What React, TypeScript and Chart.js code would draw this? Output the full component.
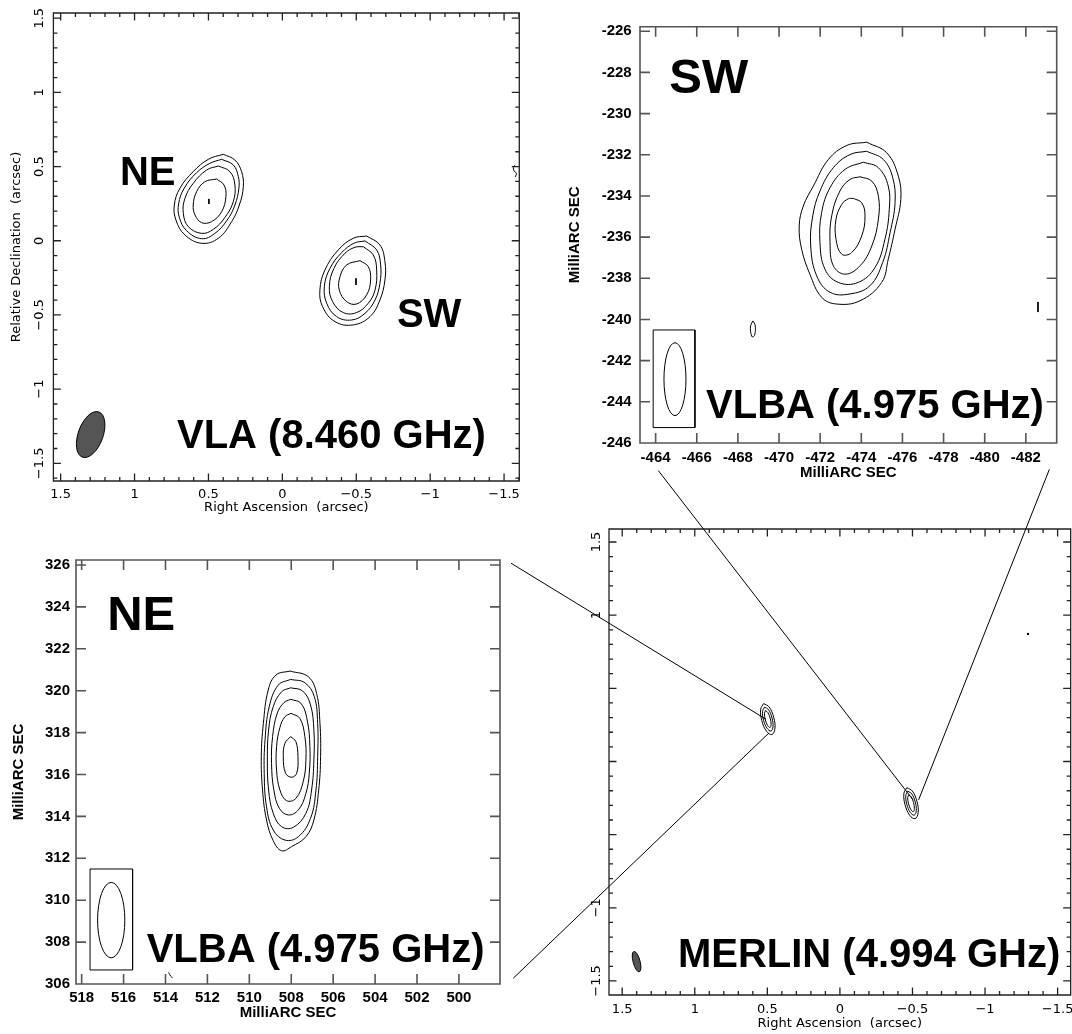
import React, { useEffect, useRef } from 'react';
import { Chart, registerables } from 'chart.js';

Chart.register(...registerables);

type XY = [number, number];

// ================= VLA (8.460 GHz) panel — arcsec =================
const VLA_X_RANGE: XY = [-1.603, 1.549];
const VLA_Y_RANGE: XY = [-1.619, 1.535];
const VLA_TICKS = [1.5, 1, 0.5, 0, -0.5, -1, -1.5];
const VLA_TICK_LABELS = ['1.5', '1', '0.5', '0', '\u22120.5', '\u22121', '\u22121.5'];
const VLA_NE_C1: XY[] = [[0.400,0.583],[0.321,0.544],[0.276,0.466],[0.264,0.365],[0.291,0.241],[0.343,0.129],[0.433,0.017],[0.546,-0.017],[0.659,0.039],[0.720,0.140],[0.731,0.241],[0.693,0.354],[0.603,0.466],[0.501,0.549]];
const VLA_NE_C2: XY[] = [[0.411,0.549],[0.332,0.511],[0.298,0.432],[0.294,0.354],[0.321,0.241],[0.373,0.140],[0.456,0.050],[0.546,0.014],[0.648,0.068],[0.697,0.158],[0.702,0.248],[0.664,0.354],[0.580,0.459],[0.490,0.522]];
const VLA_NE_C3: XY[] = [[0.433,0.504],[0.355,0.466],[0.321,0.376],[0.332,0.264],[0.388,0.158],[0.467,0.077],[0.546,0.050],[0.636,0.095],[0.670,0.185],[0.659,0.286],[0.603,0.387],[0.512,0.477]];
const VLA_NE_C4: XY[] = [[0.445,0.416],[0.395,0.376],[0.382,0.297],[0.411,0.196],[0.479,0.129],[0.546,0.122],[0.591,0.174],[0.603,0.241],[0.580,0.331],[0.524,0.398]];
const VLA_NE_PEAK: XY[] = [[0.497,0.282],[0.497,0.248]];
const VLA_SW_C1: XY[] = [[-0.570,0.032],[-0.660,-0.028],[-0.694,-0.141],[-0.694,-0.264],[-0.660,-0.399],[-0.593,-0.511],[-0.480,-0.567],[-0.356,-0.545],[-0.272,-0.444],[-0.254,-0.332],[-0.288,-0.197],[-0.378,-0.062],[-0.480,0.017]];
const VLA_SW_C2: XY[] = [[-0.559,-0.001],[-0.638,-0.062],[-0.665,-0.163],[-0.660,-0.287],[-0.627,-0.399],[-0.559,-0.489],[-0.469,-0.534],[-0.367,-0.511],[-0.300,-0.421],[-0.284,-0.309],[-0.322,-0.186],[-0.401,-0.080],[-0.484,-0.017]];
const VLA_SW_C3: XY[] = [[-0.548,-0.040],[-0.615,-0.096],[-0.638,-0.197],[-0.627,-0.332],[-0.581,-0.421],[-0.502,-0.484],[-0.412,-0.484],[-0.340,-0.410],[-0.318,-0.309],[-0.349,-0.186],[-0.424,-0.084],[-0.491,-0.044]];
const VLA_SW_C4: XY[] = [[-0.525,-0.134],[-0.581,-0.174],[-0.597,-0.264],[-0.570,-0.365],[-0.502,-0.426],[-0.435,-0.410],[-0.385,-0.332],[-0.390,-0.242],[-0.435,-0.163]];
const VLA_SW_PEAK: XY[] = [[-0.498,-0.253],[-0.498,-0.298]];
const VLA_EDGE_BLIP: XY[] = [[-1.575,0.51],[-1.563,0.495],[-1.568,0.47],[-1.583,0.455],[-1.576,0.43]];
const VLA_BEAM = { x: 1.297, y: -1.306, major: 0.162, minor: 0.084, pa: -20, fill: '#555555' };
const VLA_TEXTS = [
  { text: 'NE', x: 1.099, y: 0.376, size: 40 },
  { text: 'SW', x: -0.775, y: -0.581, size: 40 },
  { text: 'VLA (8.460 GHz)', x: 0.713, y: -1.396, size: 40 },
];

// ================= VLBA SW panel — milliarcsec =================
const SW_X_RANGE: XY = [-483.50, -463.24];
const SW_Y_RANGE: XY = [-246.0, -225.78];
const SW_X_TICKS = [-464, -466, -468, -470, -472, -474, -476, -478, -480, -482];
const SW_X_LABELS = ['-464', '-466', '-468', '-470', '-472', '-474', '-476', '-478', '-480', '-482'];
const SW_Y_TICKS = [-226, -228, -230, -232, -234, -236, -238, -240, -242, -244, -246];
const SW_Y_LABELS = ['-226', '-228', '-230', '-232', '-234', '-236', '-238', '-240', '-242', '-244', '-246'];
const SW_C1: XY[] = [[-474.26,-231.39],[-475.24,-231.91],[-475.80,-233.04],[-475.92,-234.17],[-475.64,-235.62],[-475.31,-237.07],[-474.99,-238.20],[-473.94,-239.09],[-472.80,-239.25],[-472.07,-238.92],[-471.50,-237.80],[-471.10,-236.59],[-470.98,-235.46],[-471.18,-234.49],[-471.67,-233.52],[-472.40,-232.23],[-473.29,-231.55]];
const SW_C2: XY[] = [[-474.26,-231.83],[-475.07,-232.23],[-475.53,-233.12],[-475.64,-234.33],[-475.40,-235.78],[-475.04,-237.23],[-474.42,-238.36],[-473.45,-238.76],[-472.48,-238.68],[-471.83,-237.88],[-471.54,-236.43],[-471.64,-234.97],[-471.99,-233.76],[-472.64,-232.63],[-473.45,-231.99]];
const SW_C3: XY[] = [[-474.10,-232.36],[-474.83,-232.63],[-475.31,-233.52],[-475.36,-234.65],[-475.15,-236.10],[-474.67,-237.47],[-473.85,-238.20],[-472.88,-238.20],[-472.23,-237.55],[-471.99,-236.26],[-472.07,-234.81],[-472.48,-233.60],[-473.21,-232.71]];
const SW_C4: XY[] = [[-473.94,-233.07],[-474.51,-233.28],[-474.83,-234.01],[-474.83,-235.13],[-474.51,-236.43],[-473.94,-237.39],[-473.21,-237.80],[-472.64,-237.39],[-472.48,-236.26],[-472.56,-234.97],[-472.96,-233.76],[-473.45,-233.20]];
const SW_C5: XY[] = [[-473.61,-234.12],[-474.02,-234.33],[-474.18,-234.97],[-474.02,-235.94],[-473.53,-236.75],[-473.05,-236.83],[-472.77,-236.10],[-472.77,-235.13],[-473.05,-234.41],[-473.37,-234.14]];
const SW_SPOT: XY[] = [[-468.73,-240.07],[-468.83,-240.25],[-468.85,-240.5],[-468.80,-240.78],[-468.70,-240.85],[-468.62,-240.6],[-468.62,-240.3]];
const SW_TICKMARK: XY[] = [[-482.59,-239.15],[-482.59,-239.64]];
const SW_BEAM_BOX: XY[] = [[-463.88,-240.51],[-465.91,-240.51],[-465.91,-245.25],[-463.88,-245.25]];
const SW_BEAM = { x: -464.94, y: -242.90, major: 1.77, minor: 0.535, pa: 0, fill: '' };
const SW_TEXTS = [
  { text: 'SW', x: -464.66, y: -228.99, size: 49 },
  { text: 'VLBA (4.975 GHz)', x: -466.45, y: -244.81, size: 40 },
];

// ================= VLBA NE panel — milliarcsec =================
const NE_X_RANGE: XY = [498.04, 518.27];
const NE_Y_RANGE: XY = [306.0, 326.24];
const NE_X_TICKS = [518, 516, 514, 512, 510, 508, 506, 504, 502, 500];
const NE_X_LABELS = ['518', '516', '514', '512', '510', '508', '506', '504', '502', '500'];
const NE_Y_TICKS = [326, 324, 322, 320, 318, 316, 314, 312, 310, 308, 306];
const NE_Y_LABELS = ['326', '324', '322', '320', '318', '316', '314', '312', '310', '308', '306'];
const NE_C1: XY[] = [[508.06,320.94],[507.19,320.67],[506.79,319.87],[506.63,318.44],[506.60,316.85],[506.69,315.26],[506.92,313.83],[507.30,313.03],[507.98,312.56],[508.46,312.36],[508.86,312.84],[509.18,313.83],[509.37,315.26],[509.43,316.85],[509.33,318.44],[509.10,320.03],[508.73,320.75]];
const NE_C2: XY[] = [[508.03,320.54],[507.35,320.38],[506.90,319.72],[506.74,318.44],[506.74,316.85],[506.82,315.26],[507.08,313.91],[507.66,313.03],[508.30,312.87],[508.86,313.35],[509.18,314.46],[509.29,316.06],[509.25,317.65],[509.05,319.24],[508.62,320.27]];
const NE_C3: XY[] = [[508.03,320.14],[507.46,319.99],[507.08,319.32],[506.92,318.12],[506.92,316.69],[507.03,315.26],[507.30,314.15],[507.90,313.48],[508.46,313.51],[508.86,314.15],[509.08,315.26],[509.14,316.69],[509.08,318.12],[508.86,319.24],[508.46,319.95]];
const NE_C4: XY[] = [[508.03,319.59],[507.54,319.40],[507.24,318.60],[507.11,317.33],[507.14,316.06],[507.30,315.10],[507.66,314.31],[508.14,314.07],[508.57,314.39],[508.83,315.26],[508.94,316.53],[508.89,317.81],[508.67,318.92],[508.35,319.43]];
const NE_C5: XY[] = [[508.01,318.92],[507.59,318.68],[507.35,317.81],[507.30,316.69],[507.43,315.66],[507.78,314.86],[508.22,314.75],[508.54,315.26],[508.70,316.21],[508.70,317.33],[508.54,318.25],[508.30,318.76]];
const NE_C6: XY[] = [[508.03,317.81],[507.78,317.57],[507.68,316.85],[507.74,316.06],[507.98,315.87],[508.27,316.06],[508.38,316.85],[508.30,317.49]];
const NE_BLIP: XY[] = [[513.85,306.55],[513.75,306.37],[513.66,306.30]];
const NE_BEAM_BOX: XY[] = [[517.60,311.49],[515.57,311.49],[515.57,306.67],[517.60,306.67]];
const NE_BEAM = { x: 516.59, y: 309.05, major: 1.80, minor: 0.65, pa: 0, fill: '' };
const NE_TEXTS = [
  { text: 'NE', x: 516.78, y: 322.90, size: 49 },
  { text: 'VLBA (4.975 GHz)', x: 514.90, y: 307.06, size: 40 },
];

// ================= MERLIN (4.994 GHz) panel — arcsec =================
const M_X_RANGE: XY = [-1.590, 1.591];
const M_Y_RANGE: XY = [-1.596, 1.589];
const M_TICKS = [1.5, 1, 0.5, 0, -0.5, -1, -1.5];
const M_X_LABELS = ['1.5', '1', '0.5', '0', '\u22120.5', '\u22121', '\u22121.5'];
const M_Y_LABELS = ['1.5', '1', '', '', '', '\u22121', '\u22121.5'];
const M_NE_C1: XY[] = [[0.526,0.396],[0.546,0.357],[0.538,0.279],[0.506,0.207],[0.469,0.184],[0.448,0.223],[0.456,0.301],[0.488,0.373]];
const M_NE_C2: XY[] = [[0.519,0.372],[0.533,0.343],[0.526,0.282],[0.502,0.227],[0.475,0.208],[0.461,0.238],[0.468,0.298],[0.492,0.354]];
const M_NE_C3: XY[] = [[0.513,0.348],[0.520,0.328],[0.514,0.285],[0.498,0.246],[0.482,0.232],[0.474,0.252],[0.480,0.295],[0.496,0.334]];
const M_SW_C1: XY[] = [[-0.461,-0.179],[-0.441,-0.218],[-0.449,-0.296],[-0.481,-0.368],[-0.518,-0.391],[-0.539,-0.352],[-0.531,-0.274],[-0.499,-0.202]];
const M_SW_C2: XY[] = [[-0.468,-0.203],[-0.454,-0.232],[-0.461,-0.293],[-0.485,-0.348],[-0.512,-0.367],[-0.526,-0.337],[-0.519,-0.277],[-0.495,-0.221]];
const M_SW_C3: XY[] = [[-0.474,-0.227],[-0.467,-0.247],[-0.473,-0.290],[-0.489,-0.329],[-0.505,-0.343],[-0.513,-0.323],[-0.507,-0.280],[-0.491,-0.241]];
const M_SPOT: XY[] = [[-1.296, 0.872]];
const M_BEAM = { x: 1.401, y: -1.368, major: 0.072, minor: 0.024, pa: 15, fill: '#555555' };
const M_TEXTS = [{ text: 'MERLIN (4.994 GHz)', x: 1.116, y: -1.403, size: 40 }];

// ============ zoom connector lines, in MERLIN sky coordinates (arcsec) ============
const CONNECTORS: XY[][] = [
  [[1.253, 1.988], [-0.494, -0.263]],
  [[-1.429, 1.997], [-0.532, -0.263]],
  [[2.263, 1.355], [0.514, 0.288]],
  [[2.248, -1.482], [0.494, 0.195]],
];
const PAGE_X_RANGE: XY = [-1.584, 5.768];
const PAGE_Y_RANGE: XY = [-1.863, 5.205];

// ---------------- helpers ----------------
const minorTicks = (lo: number, hi: number, step: number) => {
  const out: number[] = [];
  for (let v = lo; v <= hi + 1e-9; v += step) out.push(Math.round(v * 1000) / 1000);
  return out;
};
const closed = (pts: XY[]) => [...pts, pts[0]].map(([x, y]) => ({ x, y }));
const open = (pts: XY[]) => pts.map(([x, y]) => ({ x, y }));
const lineDs = (data: any[], extra: any = {}) => ({
  data, showLine: true, pointRadius: 0, borderColor: '#000', borderWidth: 1, tension: 0.4, fill: false, ...extra,
});

const BIG_FONT = '"Liberation Sans", Arial, Helvetica, sans-serif';

function decorPlugin(s: any) {
  return {
    id: 'decor',
    afterDatasetsDraw(chart: any) {
      const { ctx, chartArea } = chart;
      const xs = chart.scales.x;
      const ys = chart.scales.y;
      ctx.save();
      (s.beams || []).forEach((b: any) => {
        const px = xs.getPixelForValue(b.x);
        const py = ys.getPixelForValue(b.y);
        const ra = Math.abs(ys.getPixelForValue(b.y + b.major) - py);
        const rb = Math.abs(xs.getPixelForValue(b.x + b.minor) - px);
        ctx.beginPath();
        ctx.ellipse(px, py, rb, ra, (-b.pa * Math.PI) / 180, 0, Math.PI * 2);
        if (b.fill) {
          ctx.fillStyle = b.fill;
          ctx.fill();
        }
        ctx.lineWidth = 1;
        ctx.strokeStyle = '#000';
        ctx.stroke();
      });
      (s.texts || []).forEach((t: any) => {
        ctx.font = `bold ${t.size}px ${BIG_FONT}`;
        ctx.fillStyle = '#000';
        ctx.textAlign = 'left';
        ctx.textBaseline = 'alphabetic';
        ctx.fillText(t.text, xs.getPixelForValue(t.x), ys.getPixelForValue(t.y));
      });
      if (s.frame) {
        const { left, right, top, bottom } = chartArea;
        ctx.strokeStyle = s.frameColor;
        ctx.lineWidth = s.frameWidth;
        ctx.beginPath();
        ctx.rect(left, top, right - left, bottom - top);
        const xt = (vals: number[], len: number) =>
          vals.forEach((v) => {
            const p = xs.getPixelForValue(v);
            if (p < left || p > right) return;
            ctx.moveTo(p, bottom);
            ctx.lineTo(p, bottom - len);
            ctx.moveTo(p, top);
            ctx.lineTo(p, top + len);
          });
        const yt = (vals: number[], len: number) =>
          vals.forEach((v) => {
            const p = ys.getPixelForValue(v);
            if (p < top || p > bottom) return;
            ctx.moveTo(left, p);
            ctx.lineTo(left + len, p);
            ctx.moveTo(right, p);
            ctx.lineTo(right - len, p);
          });
        xt(s.xTicks, s.majorLen);
        yt(s.yTicks, s.majorLen);
        if (s.xMinor) xt(s.xMinor, s.minorLen);
        if (s.yMinor) yt(s.yMinor, s.minorLen);
        ctx.stroke();
      }
      ctx.restore();
    },
  };
}

function panelConfig(s: any) {
  return {
    type: 'scatter',
    data: { datasets: s.datasets },
    options: {
      responsive: false,
      animation: false,
      events: [],
      layout: { padding: s.padding },
      plugins: { legend: { display: false }, tooltip: { enabled: false } },
      scales: {
        x: {
          type: 'linear',
          min: s.xRange[0],
          max: s.xRange[1],
          reverse: true,
          afterBuildTicks: (a: any) => { a.ticks = s.xTicks.map((v: number) => ({ value: v })); },
          afterFit: (a: any) => { a.height = s.xAxisHeight; },
          grid: { display: false, drawTicks: false },
          border: { display: false },
          ticks: {
            autoSkip: false, maxRotation: 0, minRotation: 0, padding: s.xTickPad,
            font: s.tickFont, color: '#000',
            callback: (_v: any, i: number) => s.xLabels[i],
          },
          title: { display: true, text: s.xTitle, font: s.titleFont, color: '#000', padding: { top: 0, bottom: s.xTitlePad } },
        },
        y: {
          type: 'linear',
          min: s.yRange[0],
          max: s.yRange[1],
          afterBuildTicks: (a: any) => { a.ticks = s.yTicks.map((v: number) => ({ value: v })); },
          afterFit: (a: any) => { a.width = s.yAxisWidth; },
          grid: { display: false, drawTicks: false },
          border: { display: false },
          ticks: {
            autoSkip: false,
            minRotation: s.yRot ? 90 : 0,
            maxRotation: s.yRot ? 90 : 0,
            crossAlign: s.yRot ? 'center' : 'near',
            padding: s.yTickPad,
            font: s.tickFont, color: '#000',
            callback: (_v: any, i: number) => s.yLabels[i],
          },
          title: {
            display: !!s.yTitle, text: s.yTitle || '', font: s.titleFont, color: '#000',
            padding: { top: s.yTitlePad, bottom: 0 },
          },
        },
      },
    },
    plugins: [decorPlugin(s)],
  };
}

const PG_TICK_FONT = { family: '"DejaVu Sans", sans-serif', size: 13, weight: 'normal' };
const PG_TITLE_FONT = { family: '"DejaVu Sans", sans-serif', size: 13, weight: 'normal' };
const VB_TICK_FONT = { family: BIG_FONT, size: 15, weight: 'bold' };
const VB_TITLE_FONT = { family: BIG_FONT, size: 15, weight: 'bold' };

function vlaConfig() {
  return panelConfig({
    datasets: [
      ...[VLA_NE_C1, VLA_NE_C2, VLA_NE_C3, VLA_NE_C4, VLA_SW_C1, VLA_SW_C2, VLA_SW_C3, VLA_SW_C4].map((c) => lineDs(closed(c))),
      lineDs(open(VLA_NE_PEAK), { tension: 0 }),
      lineDs(open(VLA_SW_PEAK), { tension: 0 }),
      lineDs(open(VLA_EDGE_BLIP)),
    ],
    padding: { left: 0, top: 13, right: 20.7, bottom: 9 },
    xRange: VLA_X_RANGE, yRange: VLA_Y_RANGE,
    xTicks: VLA_TICKS, xLabels: VLA_TICK_LABELS, yTicks: VLA_TICKS, yLabels: VLA_TICK_LABELS,
    xMinor: minorTicks(-1.6, 1.5, 0.1), yMinor: minorTicks(-1.6, 1.5, 0.1),
    yAxisWidth: 53.4, xAxisHeight: 40,
    tickFont: PG_TICK_FONT, titleFont: PG_TITLE_FONT, yRot: true,
    xTickPad: 6, yTickPad: -2.4, xTitlePad: 5.2, yTitlePad: 9.2,
    xTitle: 'Right Ascension  (arcsec)', yTitle: 'Relative Declination  (arcsec)',
    frame: true, frameColor: '#222', frameWidth: 1.3, majorLen: 7.5, minorLen: 4,
    texts: VLA_TEXTS, beams: [VLA_BEAM],
  });
}

function swConfig() {
  return panelConfig({
    datasets: [
      ...[SW_C1, SW_C2, SW_C3, SW_C4, SW_C5, SW_SPOT].map((c) => lineDs(closed(c))),
      lineDs(open(SW_TICKMARK), { tension: 0 }),
      lineDs(closed(SW_BEAM_BOX), { tension: 0 }),
    ],
    padding: { left: 0, top: 26.7, right: 15.3, bottom: 7 },
    xRange: SW_X_RANGE, yRange: SW_Y_RANGE,
    xTicks: SW_X_TICKS, xLabels: SW_X_LABELS, yTicks: SW_Y_TICKS, yLabels: SW_Y_LABELS,
    yAxisWidth: 100, xAxisHeight: 40,
    tickFont: VB_TICK_FONT, titleFont: VB_TITLE_FONT, yRot: false,
    xTickPad: 5.5, yTickPad: 8.3, xTitlePad: 1, yTitlePad: 26,
    xTitle: 'MilliARC SEC', yTitle: 'MilliARC SEC',
    frame: true, frameColor: '#555', frameWidth: 1.6, majorLen: 10, minorLen: 0,
    texts: SW_TEXTS, beams: [SW_BEAM],
  });
}

function neConfig() {
  return panelConfig({
    datasets: [
      ...[NE_C1, NE_C2, NE_C3, NE_C4, NE_C5, NE_C6].map((c) => lineDs(closed(c))),
      lineDs(open(NE_BLIP)),
      lineDs(closed(NE_BEAM_BOX), { tension: 0 }),
    ],
    padding: { left: 0, top: 30, right: 40, bottom: 5 },
    xRange: NE_X_RANGE, yRange: NE_Y_RANGE,
    xTicks: NE_X_TICKS, xLabels: NE_X_LABELS, yTicks: NE_Y_TICKS, yLabels: NE_Y_LABELS,
    yAxisWidth: 76, xAxisHeight: 45,
    tickFont: VB_TICK_FONT, titleFont: VB_TITLE_FONT, yRot: false,
    xTickPad: 4.9, yTickPad: 6, xTitlePad: 7, yTitlePad: 10,
    xTitle: 'MilliARC SEC', yTitle: 'MilliARC SEC',
    frame: true, frameColor: '#555', frameWidth: 1.6, majorLen: 10, minorLen: 0,
    texts: NE_TEXTS, beams: [NE_BEAM],
  });
}

function merlinConfig() {
  return panelConfig({
    datasets: [
      ...[M_NE_C1, M_NE_C2, M_NE_C3, M_SW_C1, M_SW_C2, M_SW_C3].map((c) => lineDs(closed(c))),
      { data: open(M_SPOT), pointRadius: 1.2, pointBackgroundColor: '#000', pointBorderWidth: 0, showLine: false },
    ],
    padding: { left: 0, top: 39, right: 7.2, bottom: 2 },
    xRange: M_X_RANGE, yRange: M_Y_RANGE,
    xTicks: M_TICKS, xLabels: M_X_LABELS, yTicks: M_TICKS, yLabels: M_Y_LABELS,
    xMinor: minorTicks(-1.6, 1.6, 0.1), yMinor: minorTicks(-1.6, 1.6, 0.1),
    yAxisWidth: 69, xAxisHeight: 37,
    tickFont: PG_TICK_FONT, titleFont: PG_TITLE_FONT, yRot: true,
    xTickPad: 6.4, yTickPad: -3.5, xTitlePad: 0.2, yTitlePad: 0,
    xTitle: 'Right Ascension  (arcsec)', yTitle: '',
    frame: true, frameColor: '#222', frameWidth: 1.3, majorLen: 7.5, minorLen: 4,
    texts: M_TEXTS, beams: [M_BEAM],
  });
}

function overlayConfig() {
  return {
    type: 'scatter',
    data: { datasets: CONNECTORS.map((seg) => lineDs(open(seg), { tension: 0 })) },
    options: {
      responsive: false,
      animation: false,
      events: [],
      layout: { padding: 0 },
      plugins: { legend: { display: false }, tooltip: { enabled: false } },
      scales: {
        x: { type: 'linear', display: false, reverse: true, min: PAGE_X_RANGE[0], max: PAGE_X_RANGE[1] },
        y: { type: 'linear', display: false, min: PAGE_Y_RANGE[0], max: PAGE_Y_RANGE[1] },
      },
    },
  };
}

function ChartBox({ left, top, width, height, make }: { left: number; top: number; width: number; height: number; make: () => any }) {
  const ref = useRef<HTMLCanvasElement>(null);
  useEffect(() => {
    const chart = new Chart(ref.current as HTMLCanvasElement, make());
    return () => chart.destroy();
  }, []);
  return (
    <canvas
      ref={ref}
      width={width}
      height={height}
      style={{ position: 'absolute', left, top, width, height, pointerEvents: 'none' }}
    />
  );
}

export default function App() {
  return (
    <div style={{ position: 'absolute', left: 0, top: 0, width: 1072, height: 1034, overflow: 'hidden', background: '#fff' }}>
      <ChartBox left={0} top={0} width={540} height={530} make={vlaConfig} />
      <ChartBox left={540} top={0} width={532} height={490} make={swConfig} />
      <ChartBox left={0} top={530} width={540} height={504} make={neConfig} />
      <ChartBox left={540} top={490} width={540} height={544} make={merlinConfig} />
      <ChartBox left={0} top={0} width={1072} height={1034} make={overlayConfig} />
    </div>
  );
}
